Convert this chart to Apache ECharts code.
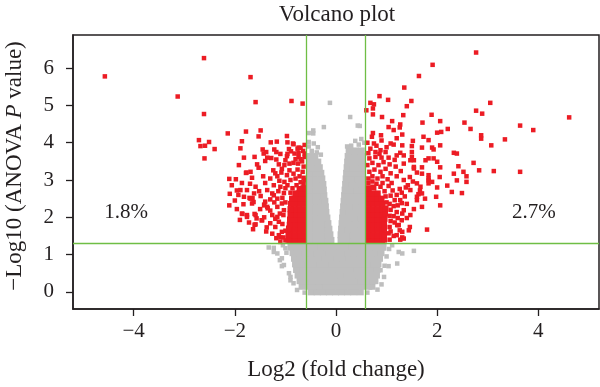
<!DOCTYPE html>
<html>
<head>
<meta charset="utf-8">
<script src="https://cdn.jsdelivr.net/npm/echarts@6/dist/echarts.min.js"></script>
<style>html,body{margin:0;padding:0;background:#fff}#c{width:600px;height:387px}</style>
</head>
<body>
<div id="c"></div>
<script>
// ---- data ----
const xTicks = [-4, -2, 0, 2, 4];
const yTicks = [0, 1, 2, 3, 4, 5, 6];
const foldCuts = [-0.585, 0.585];
const pCuts = [1.301];
const pctTexts = ['1.8%', '2.7%'];

// dense gray cloud (non-significant), estimated
const grayCore = [
[-0.49,0],[-0.37,0],[-0.25,0],[-0.13,0],[-0.01,0],[0.11,0],[0.23,0],[0.35,0],[0.48,0],
[-0.67,0.15],[-0.55,0.15],[-0.43,0.15],[-0.31,0.15],[-0.19,0.15],[-0.07,0.15],[0.05,0.15],[0.17,0.15],[0.29,0.15],[0.41,0.15],[0.53,0.15],[0.65,0.15],[0.71,0.15],
[-0.71,0.3],[-0.59,0.3],[-0.47,0.3],[-0.35,0.3],[-0.23,0.3],[-0.11,0.3],[0.01,0.3],[0.13,0.3],[0.25,0.3],[0.37,0.3],[0.49,0.3],[0.61,0.3],[0.73,0.3],[0.77,0.3],
[-0.75,0.45],[-0.63,0.45],[-0.51,0.45],[-0.39,0.45],[-0.27,0.45],[-0.15,0.45],[-0.03,0.45],[0.09,0.45],[0.21,0.45],[0.33,0.45],[0.45,0.45],[0.57,0.45],[0.69,0.45],[0.8,0.45],
[-0.78,0.6],[-0.66,0.6],[-0.54,0.6],[-0.42,0.6],[-0.3,0.6],[-0.18,0.6],[-0.06,0.6],[0.06,0.6],[0.18,0.6],[0.3,0.6],[0.42,0.6],[0.54,0.6],[0.66,0.6],[0.78,0.6],[0.81,0.6],
[-0.8,0.75],[-0.68,0.75],[-0.56,0.75],[-0.44,0.75],[-0.32,0.75],[-0.2,0.75],[-0.08,0.75],[0.04,0.75],[0.16,0.75],[0.28,0.75],[0.4,0.75],[0.52,0.75],[0.64,0.75],[0.76,0.75],[0.83,0.75],
[-0.82,0.9],[-0.7,0.9],[-0.58,0.9],[-0.46,0.9],[-0.34,0.9],[-0.22,0.9],[-0.1,0.9],[0.02,0.9],[0.14,0.9],[0.26,0.9],[0.38,0.9],[0.5,0.9],[0.62,0.9],[0.74,0.9],[0.86,0.9],
[-0.85,1.05],[-0.73,1.05],[-0.61,1.05],[-0.49,1.05],[-0.37,1.05],[-0.25,1.05],[-0.13,1.05],[-0.01,1.05],[0.11,1.05],[0.23,1.05],[0.35,1.05],[0.47,1.05],[0.59,1.05],[0.71,1.05],[0.83,1.05],[0.89,1.05],
[-0.89,1.2],[-0.77,1.2],[-0.65,1.2],[-0.53,1.2],[-0.41,1.2],[-0.29,1.2],[-0.17,1.2],[-0.05,1.2],[0.07,1.2],[0.19,1.2],[0.31,1.2],[0.43,1.2],[0.55,1.2],[0.67,1.2],[0.79,1.2],[0.91,1.2],[0.93,1.2],
[-0.52,1.38],[-0.4,1.38],[-0.28,1.38],[-0.16,1.38],[-0.1,1.38],[0.1,1.38],[0.22,1.38],[0.34,1.38],[0.46,1.38],[0.52,1.38],
[-0.52,1.53],[-0.4,1.53],[-0.28,1.53],[-0.16,1.53],[-0.12,1.53],[0.1,1.53],[0.22,1.53],[0.34,1.53],[0.46,1.53],[0.52,1.53],
[-0.52,1.68],[-0.4,1.68],[-0.28,1.68],[-0.16,1.68],[-0.14,1.68],[0.11,1.68],[0.23,1.68],[0.35,1.68],[0.47,1.68],[0.52,1.68],
[-0.52,1.83],[-0.4,1.83],[-0.28,1.83],[-0.16,1.83],[0.12,1.83],[0.24,1.83],[0.36,1.83],[0.48,1.83],[0.52,1.83],
[-0.52,1.98],[-0.4,1.98],[-0.28,1.98],[-0.18,1.98],[0.13,1.98],[0.25,1.98],[0.37,1.98],[0.49,1.98],[0.52,1.98],
[-0.52,2.13],[-0.4,2.13],[-0.3,2.13],[-0.2,2.13],[0.14,2.13],[0.26,2.13],[0.38,2.13],[0.5,2.13],[0.52,2.13],
[-0.52,2.28],[-0.4,2.28],[-0.3,2.28],[-0.21,2.28],[0.15,2.28],[0.27,2.28],[0.39,2.28],[0.51,2.28],
[-0.52,2.43],[-0.4,2.43],[-0.3,2.43],[-0.22,2.43],[0.16,2.43],[0.28,2.43],[0.4,2.43],[0.52,2.43],
[-0.52,2.58],[-0.4,2.58],[-0.3,2.58],[-0.24,2.58],[0.17,2.58],[0.29,2.58],[0.41,2.58],[0.52,2.58],
[-0.52,2.73],[-0.4,2.73],[-0.3,2.73],[-0.25,2.73],[0.18,2.73],[0.3,2.73],[0.42,2.73],[0.52,2.73],
[-0.52,2.88],[-0.4,2.88],[-0.3,2.88],[-0.26,2.88],[0.19,2.88],[0.31,2.88],[0.43,2.88],[0.52,2.88],
[-0.52,3.03],[-0.4,3.03],[-0.28,3.03],[0.2,3.03],[0.32,3.03],[0.44,3.03],[0.52,3.03],
[-0.52,3.18],[-0.4,3.18],[-0.3,3.18],[0.21,3.18],[0.33,3.18],[0.45,3.18],[0.52,3.18],
[-0.52,3.33],[-0.42,3.33],[-0.33,3.33],[0.22,3.33],[0.34,3.33],[0.46,3.33],[0.52,3.33],
[-0.52,3.48],[-0.42,3.48],[-0.36,3.48],[0.23,3.48],[0.35,3.48],[0.47,3.48],[0.52,3.48],
[-0.52,3.63],[-0.42,3.63],[0.24,3.63],[0.36,3.63],[0.48,3.63],[0.52,3.63],
[0.26,3.78],[0.38,3.78],[0.5,3.78]
];
const grayScatter = [
[-0.48,3.78],[-0.38,3.74],[-0.54,3.9],[-0.44,3.98],[-0.54,4.02],[-0.45,4.25],[-0.45,4.33],[-0.54,4.26],[-0.24,4.42],[-0.12,5.07],[-0.3,3.68],[-0.36,3.88],
[0.3,3.92],[0.45,3.95],[0.38,4.05],[0.5,4.1],[0.22,3.9],[0.28,4.69],[0.43,4.46],[0.47,4.45],[0.56,4.0],
[-1.33,1.19],[-1.23,1.18],[-1.23,1.07],[-1.16,1.03],[-1.11,0.85],[-1.07,0.9],[-1.07,0.69],[-1.03,0.72],[-1.0,1.17],[-0.93,0.5],[-0.9,0.4],[-0.9,0.31],[-0.84,0.23],[-0.77,0.05],[-1.05,1.25],[-0.98,1.05],
[1.11,1.25],[1.24,1.07],[1.31,1.03],[1.54,1.1],[1.21,0.76],[1.04,0.69],[0.88,0.58],[0.95,0.4],[0.9,0.2],[0.82,0.06],[1.05,1.15],[1.0,0.95],[0.96,0.7],[0.62,-0.02],[-0.62,-0.02]
];

// significant (red), dense cores near the cut-offs, estimated
const redCoreLeft = [
[-0.645,1.38],[-0.735,1.38],[-0.825,1.38],[-0.915,1.38],[-0.94,1.4],
[-0.645,1.52],[-0.735,1.52],[-0.825,1.52],[-0.915,1.52],[-0.94,1.55],
[-0.645,1.66],[-0.735,1.66],[-0.825,1.66],[-0.915,1.66],[-0.93,1.7],
[-0.645,1.8],[-0.735,1.8],[-0.825,1.8],[-0.915,1.8],
[-0.645,1.94],[-0.735,1.94],[-0.825,1.94],[-0.91,1.94],
[-0.645,2.08],[-0.735,2.08],[-0.825,2.08],[-0.9,2.08],
[-0.645,2.22],[-0.735,2.22],[-0.825,2.22],[-0.9,2.22],
[-0.645,2.36],[-0.735,2.36],[-0.825,2.36],[-0.89,2.36],
[-0.645,2.5],[-0.735,2.5],[-0.825,2.5],[-0.87,2.5],
[-0.645,2.64],[-0.735,2.64],[-0.8,2.64],
[-0.645,2.78],[-0.72,2.76]
];
const redCoreRight = [
[0.645,1.38],[0.735,1.38],[0.825,1.38],[0.915,1.38],[0.95,1.4],
[0.645,1.52],[0.735,1.52],[0.825,1.52],[0.915,1.52],[0.95,1.55],
[0.645,1.66],[0.735,1.66],[0.825,1.66],[0.915,1.66],[0.95,1.7],
[0.645,1.8],[0.735,1.8],[0.825,1.8],[0.915,1.8],[0.95,1.82],
[0.645,1.94],[0.735,1.94],[0.825,1.94],[0.915,1.94],[0.96,1.96],
[0.645,2.08],[0.735,2.08],[0.825,2.08],[0.915,2.08],[0.97,2.1],
[0.645,2.22],[0.735,2.22],[0.825,2.22],[0.915,2.22],[0.98,2.24],
[0.645,2.36],[0.735,2.36],[0.825,2.36],[0.915,2.36],
[0.645,2.5],[0.735,2.5],[0.825,2.5],[0.9,2.5],
[0.645,2.64],[0.735,2.64],[0.825,2.64],
[0.645,2.78],[0.74,2.8]
];
const redLeft = [
[-4.57,5.78],[-2.61,6.27],[-3.13,5.24],[-1.69,5.76],[-2.61,4.77],[-1.59,5.09],[-0.88,5.12],[-0.66,5.05],
[-2.71,4.07],[-2.68,3.91],[-2.59,3.92],[-2.51,4.02],[-2.4,3.83],[-2.6,3.58],
[-2.14,4.25],[-1.78,4.3],[-1.49,4.33],[-1.53,4.17],[-1.86,4.04],[-1.89,3.85],[-1.82,3.6],[-1.92,3.4],[-1.77,3.2],[-2.11,3.03],
[-1.29,4.01],[-1.17,4.03],[-0.97,4.18],[-0.96,4.01],[-0.84,3.96],[-0.93,3.83],[-0.76,3.84],[-0.65,3.78],[-1.18,3.75],[-1.43,3.71],
[-1.86,2.92],[-1.76,2.73],[-2.1,2.63],[-1.93,2.6],[-1.71,2.52],[-1.83,2.35],[-2.11,2.32],[-1.85,2.09],[-1.76,2.01],[-1.9,1.93],
[-1.65,2.51],[-1.66,2.37],[-1.61,2.09],[-1.61,1.8],[-1.47,1.92],[-1.42,2.34],[-1.36,2.28],[-1.37,1.73],[-1.1,1.46],
[-1.45,3.82],[-1.61,3.62],[-1.38,3.75],[-1.28,3.59],[-1.4,3.51],[-1.18,3.55],[-1.13,3.42],[-1.0,3.53],[-0.97,3.64],[-0.89,3.77],[-0.82,3.71],[-0.74,3.62],[-0.84,3.46],[-0.75,3.44],[-0.67,3.5],
[-1.53,3.33],[-1.69,3.22],[-1.24,3.26],[-1.07,3.3],[-1.44,3.1],[-1.3,3.04],[-1.16,3.1],[-0.97,3.13],[-0.84,3.17],[-1.78,3.19],
[-1.89,2.73],[-1.59,2.82],[-1.36,2.73],[-1.23,2.86],[-1.1,2.82],[-1.03,2.65],[-1.26,2.64],[-1.49,2.57],
[-1.82,2.55],[-1.69,2.5],[-1.63,2.41],[-1.86,2.1],[-1.76,2.06],[-1.59,2.06],[-1.57,1.97],[-1.59,1.81],[-1.46,1.92],[-1.42,2.32],[-1.35,2.24],[-1.23,2.59],[-1.16,2.5],
[-1.26,2.06],[-1.16,2.01],[-1.13,1.88],[-1.2,1.74],[-1.07,1.61],[-1.13,1.52],[-1.1,1.34],[-1.07,2.37],[-1.03,2.19],[-1.11,2.1],
[-0.85,3.98],[-0.74,3.87],[-0.62,3.71],
[-0.64,2.9],[-0.7,2.94],[-0.78,2.86],[-0.86,2.78],[-0.9,2.66],[-0.62,3.0],
[-0.64,3.06],[-0.72,3.1],[-0.8,3.04],[-0.9,3.0],[-0.66,3.22],[-0.76,3.28],[-0.92,3.26],[-0.64,3.36],[-0.7,3.56],[-0.62,3.62],[-0.8,3.56],[-0.92,3.44],[-0.74,3.72],[-0.7,3.86],[-0.62,3.94],
[-1.02,3.4],[-1.08,3.2],[-1.2,3.18],[-1.02,2.95],[-0.96,2.86],[-1.12,2.98],[-1.0,2.78],[-1.14,2.7],[-1.06,2.52],[-1.0,2.4],[-1.16,2.28],[-1.22,2.4],[-1.3,2.48],[-1.4,2.42],[-1.5,2.22],[-1.3,2.18],
[-1.2,1.96],[-1.04,2.06],[-1.06,1.82],[-1.0,1.64],[-1.04,1.46],[-1.0,1.38],[-1.18,1.44],[-1.26,1.56],[-1.38,1.62],[-1.3,1.84],[-1.42,2.0],[-1.64,1.68],[-1.72,1.86],
[-1.96,2.22],[-2.0,2.45],[-2.06,2.86],[-1.98,3.02],[-1.96,2.72],[-1.7,2.9],[-1.4,2.92],[-1.52,2.7],[-1.62,2.64],[-1.66,3.06],[-1.56,3.42],[-1.36,3.6],[-1.22,3.82],[-1.1,3.7],[-0.96,3.7]
];
const redRight = [
[2.77,6.42],[1.91,6.09],[1.64,5.79],[1.35,5.48],[0.86,5.25],[1.03,5.15],[1.49,5.12],[1.4,4.98],[0.68,5.07],[0.75,5.03],[0.73,4.92],[0.6,4.87],[0.73,4.76],
[3.05,5.07],[2.77,4.86],[2.89,4.78],[4.61,4.68],[3.64,4.46],[3.9,4.34],[3.34,4.09],[3.07,3.93],[2.54,4.54],[2.66,4.37],[2.87,4.2],[2.87,4.11],[2.21,4.37],[2.06,4.58],[2.08,4.29],[2.0,4.27],[1.89,4.75],[1.71,4.54],
[0.91,4.69],[1.33,4.74],[1.11,4.58],[1.27,4.49],[1.26,4.41],[1.04,4.42],[1.14,4.34],[1.31,4.22],[0.73,4.26],[0.71,4.16],[0.89,4.2],[1.73,4.16],[1.83,4.07],
[0.75,3.98],[1.08,3.98],[1.14,3.95],[1.31,3.93],[1.52,4.05],[1.5,3.91],[1.7,3.87],[1.9,3.87],[1.93,3.82],[2.06,3.93],
[0.68,3.84],[0.78,3.75],[0.88,3.8],[0.98,3.75],[1.27,3.73],[1.34,3.66],[1.5,3.75],[1.5,3.62],[2.33,3.73],[2.39,3.71],
[1.77,3.53],[1.83,3.58],[1.93,3.58],[2.0,3.49],[1.54,3.53],[1.54,3.31],[1.7,3.34],[2.72,3.46],[2.83,3.26],[3.12,3.24],[3.64,3.22],
[2.42,3.37],[2.33,3.17],[2.06,3.34],[2.05,3.08],[1.83,3.13],[1.83,2.99],[1.9,2.95],[2.58,3.1],[2.58,2.95],[2.52,3.22],[2.39,2.99],[2.29,2.68],[2.49,2.65],[1.7,2.64],[1.6,2.55],
[1.63,2.62],[1.98,2.55],[2.06,2.32],[1.7,2.28],[1.47,2.06],[1.8,1.67],[1.46,1.74],[1.31,1.61],[1.34,1.43],[1.24,1.79],[1.06,1.74],[1.04,1.57],[1.34,2.19],[1.31,2.1],[1.27,2.46],[1.14,2.3],[1.14,2.03],
[1.21,1.79],[1.26,1.65],[1.44,1.65],[1.31,1.46],[1.27,1.4],[1.6,2.46],[1.47,2.73],[1.6,2.91],[1.83,2.91],[1.83,3.04],[1.67,2.82],[1.7,3.17],[1.54,3.35],[1.47,3.53],[1.34,3.44],
[0.64,2.92],[0.72,2.96],[0.8,2.9],[0.88,2.82],[0.96,2.7],[0.92,2.92],[0.98,2.56],[1.0,2.4],
[0.64,3.04],[0.72,3.1],[0.82,3.04],[0.92,3.1],[1.02,3.02],[1.1,2.92],[0.66,3.22],[0.76,3.28],[0.88,3.22],[0.98,3.3],[1.08,3.18],[1.2,3.1],[0.62,3.4],[0.72,3.46],[0.84,3.4],[0.94,3.48],[1.06,3.42],[1.18,3.36],[1.28,3.24],
[0.66,3.58],[0.78,3.62],[0.9,3.6],[1.04,3.6],[1.16,3.54],[0.64,3.72],[0.86,3.7],[1.2,3.66],[1.0,3.88],[0.62,4.0],[0.9,4.06],[1.2,4.12],[0.8,3.92],
[1.04,2.84],[1.12,2.72],[1.2,2.6],[1.08,2.58],[1.16,2.46],[1.06,2.36],[1.22,2.32],[1.08,2.2],[1.2,2.14],[1.06,2.04],[1.22,1.98],[1.08,1.9],[1.16,1.86],[1.3,1.92],[1.08,1.62],[1.14,1.5],[1.06,1.4],[1.2,1.52],
[1.4,2.36],[1.36,2.56],[1.3,2.66],[1.42,2.86],[1.52,2.96],[1.34,3.0],[1.6,3.2],[1.46,3.08],[1.66,2.72],[1.54,2.22],[1.4,1.98],[1.26,2.76],[1.38,2.8],[2.2,2.85],[2.0,2.8],[1.76,2.5],[1.3,2.38]
];

// ---- chart ----
const FONT = '"Liberation Serif", "DejaVu Serif", serif';
const INK = '#231f20';
const RED = '#ec1c24';
const GRAY = '#bebebe';
const GREEN = '#6fbe45';
const fmt = v => (v < 0 ? '\u2212' + Math.abs(v) : String(v));

const chart = echarts.init(document.getElementById('c'), null, {renderer: 'canvas'});
const option = {
  animation: false,
  backgroundColor: '#fff',
  grid: {left: 73, right: 1, top: 35, bottom: 78, show: true, borderColor: INK, borderWidth: 1.5, backgroundColor: 'transparent'},
  xAxis: {
    type: 'value', min: -5.2, max: 5.2,
    name: 'Log2 (fold change)', nameLocation: 'middle', nameGap: 49,
    nameTextStyle: {fontFamily: FONT, fontSize: 23, color: INK},
    splitLine: {show: false},
    axisLine: {show: true, onZero: false, lineStyle: {color: INK, width: 1.5}},
    axisTick: {show: true, length: 7, customValues: xTicks, lineStyle: {color: INK, width: 1.3}},
    axisLabel: {customValues: xTicks, formatter: fmt, fontFamily: FONT, fontSize: 21, color: INK, margin: 12}
  },
  yAxis: {
    type: 'value', min: -0.46, max: 6.89,
    splitLine: {show: false},
    axisLine: {show: true, onZero: false, lineStyle: {color: INK, width: 1.5}},
    axisTick: {show: true, length: 7, customValues: yTicks, lineStyle: {color: INK, width: 1.3}},
    axisLabel: {customValues: yTicks, formatter: fmt, fontFamily: FONT, fontSize: 21, color: INK, margin: 19}
  },
  graphic: [
    {type: 'text', x: 337, y: 15, style: {text: 'Volcano plot', font: '23px ' + FONT, fill: INK, align: 'center', verticalAlign: 'middle'}},
    {type: 'text', x: 15, y: 166, rotation: Math.PI / 2,
     style: {text: '\u2212Log10 (ANOVA {i|P} value)', font: '23px ' + FONT, fill: INK, align: 'center', verticalAlign: 'middle',
       rich: {i: {fontStyle: 'italic', fontFamily: FONT, fontSize: 23, fill: INK, color: INK}}}}
  ],
  series: [
    {type: 'scatter', name: 'ns-core', data: grayCore, symbol: 'rect', symbolSize: 7, itemStyle: {color: GRAY, opacity: 1}, silent: true, z: 1},
    {type: 'scatter', name: 'ns', data: grayScatter, symbol: 'rect', symbolSize: 4.5, itemStyle: {color: GRAY, opacity: 1}, silent: true, z: 1},
    {type: 'scatter', name: 'sig-core', data: redCoreLeft.concat(redCoreRight), symbol: 'rect', symbolSize: 6, itemStyle: {color: RED, opacity: 1}, silent: true, z: 2},
    {type: 'scatter', name: 'sig', data: redLeft.concat(redRight), symbol: 'rect', symbolSize: 4.5, itemStyle: {color: RED, opacity: 1}, silent: true, z: 2},
    {type: 'scatter', name: 'pct', data: [[-4.14, 2.11], [3.92, 2.11]], symbolSize: 1, itemStyle: {opacity: 0}, silent: true, z: 4,
     label: {show: true, position: [0, 0], align: 'center', verticalAlign: 'middle', fontFamily: FONT, fontSize: 21, color: INK,
       textBorderWidth: 0, opacity: 1, formatter: p => pctTexts[p.dataIndex]}},
    {type: 'line', name: 'cuts', data: [], silent: true, z: 5,
     markLine: {silent: true, symbol: ['none', 'none'], label: {show: false}, animation: false,
       lineStyle: {color: GREEN, width: 1.3, type: 'solid'},
       data: foldCuts.map(v => ({xAxis: v})).concat(pCuts.map(v => ({yAxis: v})))}}
  ]
};
chart.setOption(option);
</script>
</body>
</html>
